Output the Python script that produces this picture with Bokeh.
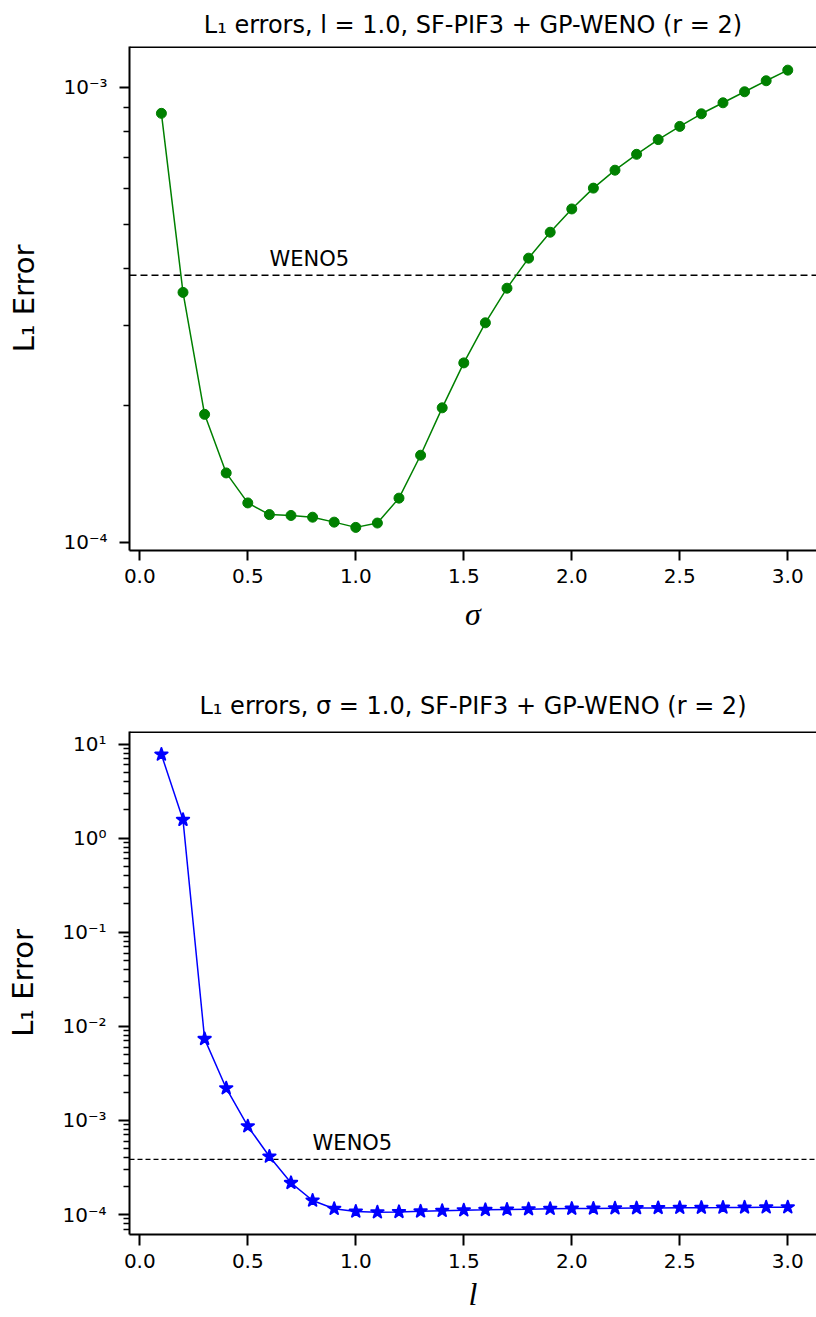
from bokeh.plotting import figure
from bokeh.layouts import column
from bokeh.models import Range1d, FixedTicker, NumeralTickFormatter, Span
from bokeh.core.properties import value
from bokeh.embed import file_html
from bokeh.resources import INLINE

# ---------------- data ----------------
sigma = [0.1, 0.2, 0.3, 0.4, 0.5, 0.6, 0.7, 0.8, 0.9, 1.0,
         1.1, 1.2, 1.3, 1.4, 1.5, 1.6, 1.7, 1.8, 1.9, 2.0,
         2.1, 2.2, 2.3, 2.4, 2.5, 2.6, 2.7, 2.8, 2.9, 3.0]
err_sigma = [8.76e-4, 3.54e-4, 1.91e-4, 1.42e-4, 1.22e-4, 1.15e-4, 1.145e-4, 1.135e-4, 1.107e-4, 1.078e-4,
             1.102e-4, 1.25e-4, 1.553e-4, 1.974e-4, 2.478e-4, 3.035e-4, 3.616e-4, 4.21e-4, 4.80e-4, 5.40e-4,
             6.00e-4, 6.57e-4, 7.12e-4, 7.67e-4, 8.20e-4, 8.74e-4, 9.24e-4, 9.77e-4, 1.033e-3, 1.09e-3]

ell = [0.1, 0.2, 0.3, 0.4, 0.5, 0.6, 0.7, 0.8, 0.9, 1.0,
       1.1, 1.2, 1.3, 1.4, 1.5, 1.6, 1.7, 1.8, 1.9, 2.0,
       2.1, 2.2, 2.3, 2.4, 2.5, 2.6, 2.7, 2.8, 2.9, 3.0]
err_ell = [7.73, 1.565, 7.36e-3, 2.2e-3, 8.68e-4, 4.13e-4, 2.17e-4, 1.41e-4, 1.15e-4, 1.076e-4,
           1.058e-4, 1.066e-4, 1.08e-4, 1.095e-4, 1.111e-4, 1.12e-4, 1.13e-4, 1.14e-4, 1.15e-4, 1.155e-4,
           1.16e-4, 1.165e-4, 1.17e-4, 1.175e-4, 1.18e-4, 1.183e-4, 1.186e-4, 1.19e-4, 1.193e-4, 1.196e-4]

weno5 = 3.86e-4

x_ticks = [0.0, 0.5, 1.0, 1.5, 2.0, 2.5, 3.0]
top_major = [1e-4, 1e-3]
top_labels = {1e-4: "10\u207b\u2074", 1e-3: "10\u207b\u00b3"}
bot_major = [1e-4, 1e-3, 1e-2, 1e-1, 1.0, 10.0]
bot_labels = {1e-4: "10\u207b\u2074", 1e-3: "10\u207b\u00b3", 1e-2: "10\u207b\u00b2",
              1e-1: "10\u207b\u00b9", 1.0: "10\u2070", 10.0: "10\u00b9"}

title_top = "L\u2081 errors, l = 1.0, SF-PIF3 + GP-WENO (r = 2)"
title_bot = "L\u2081 errors, \u03c3 = 1.0, SF-PIF3 + GP-WENO (r = 2)"
ylabel = "L\u2081 Error"

SANS = "DejaVu Sans"


def minor_ticks(lo_exp, hi_exp, lo, hi):
    out = []
    for e in range(lo_exp, hi_exp + 1):
        for m in range(2, 10):
            v = m * 10.0 ** e
            if lo <= v <= hi:
                out.append(v)
    return out


def make_fig(height, border_top, border_bottom, ylo, yhi, majors, labels, minors, title,
             xlabel, major_len, xlabel_size, xlabel_standoff, title_standoff):
    p = figure(width=816, height=height, y_axis_type="log",
               x_range=Range1d(-0.0477, 3.133), y_range=Range1d(ylo, yhi),
               output_backend="svg", toolbar_location=None,
               min_border_left=129, min_border_right=0,
               min_border_top=border_top, min_border_bottom=border_bottom,
               title=title)
    p.outline_line_color = None
    p.xgrid.visible = False
    p.ygrid.visible = False
    p.background_fill_color = "white"
    p.border_fill_color = "white"

    p.title.text_font = SANS
    p.title.text_font_size = "24px"
    p.title.text_font_style = "normal"
    p.title.align = "center"
    p.title.text_color = "black"
    p.title.standoff = title_standoff

    xa = p.xaxis[0]
    xa.ticker = FixedTicker(ticks=x_ticks, minor_ticks=[])
    xa.formatter = NumeralTickFormatter(format="0.0")
    ya = p.yaxis[0]
    ya.ticker = FixedTicker(ticks=majors, minor_ticks=minors)
    ya.major_label_overrides = labels

    for ax in (xa, ya):
        ax.axis_line_width = 2
        ax.axis_line_color = "black"
        ax.major_tick_line_width = 2
        ax.major_tick_line_color = "black"
        ax.minor_tick_line_width = 1.5
        ax.minor_tick_line_color = "black"
        ax.major_tick_in = 0
        ax.major_tick_out = major_len
        ax.minor_tick_in = 0
        ax.minor_tick_out = 6
        ax.major_label_text_font = SANS
        ax.major_label_text_font_size = "20px"
        ax.major_label_text_color = "black"

    xa.major_label_standoff = 8
    xa.axis_label = xlabel
    xa.axis_label_text_font = "Liberation Serif"
    xa.axis_label_text_font_style = "italic"
    xa.axis_label_text_font_size = xlabel_size
    xa.axis_label_text_color = "black"
    xa.axis_label_standoff = xlabel_standoff

    ya.major_label_standoff = 12
    ya.axis_label = ylabel
    ya.axis_label_text_font = SANS
    ya.axis_label_text_font_style = "normal"
    ya.axis_label_text_font_size = "29px"
    ya.axis_label_text_color = "black"
    ya.axis_label_standoff = 19

    # top spine
    p.add_layout(Span(location=yhi, dimension="width", line_color="black", line_width=3))
    return p


# ---------------- top panel ----------------
p1 = make_fig(660, 46, 110, 9.59e-5, 1.2285e-3, top_major, top_labels,
              minor_ticks(-5, -3, 9.59e-5, 1.2285e-3), title_top, "\u03c3", 10, "32px", 10, 16)
p1.segment(x0=[-0.0477], x1=[3.133], y0=[weno5], y1=[weno5], line_color="black",
           line_width=1.5, line_dash="7 4")
p1.text(x=[0.6], y=[weno5], text=["WENO5"], text_font=value(SANS), text_font_size="21px",
        text_baseline="bottom", text_align="left", y_offset=-4, text_color="black")
p1.line(sigma, err_sigma, line_color="#008000", line_width=1.5)
p1.scatter(sigma, err_sigma, size=10, marker="circle", fill_color="#008000", line_color="#008000")

# ---------------- bottom panel ----------------
p2 = make_fig(657, 71, 83, 10 ** -4.2125, 10 ** 1.133, bot_major, bot_labels,
              minor_ticks(-5, 1, 10 ** -4.2125, 10 ** 1.133), title_bot, "l", 11, "32px", 5, 24)
p2.segment(x0=[-0.0477], x1=[3.133], y0=[weno5], y1=[weno5], line_color="black",
           line_width=1.3, line_dash="5 3")
p2.text(x=[0.8], y=[weno5], text=["WENO5"], text_font=value(SANS), text_font_size="21px",
        text_baseline="bottom", text_align="left", y_offset=-4, text_color="black")
p2.line(ell, err_ell, line_color="#0000ff", line_width=1.5)
p2.scatter(ell, err_ell, size=13, marker="star", fill_color="#0000ff", line_color="#0000ff",
           line_width=2, line_join="round")

layout = column(p1, p2, spacing=0)
open("out.html", "w").write(file_html(layout, INLINE))
